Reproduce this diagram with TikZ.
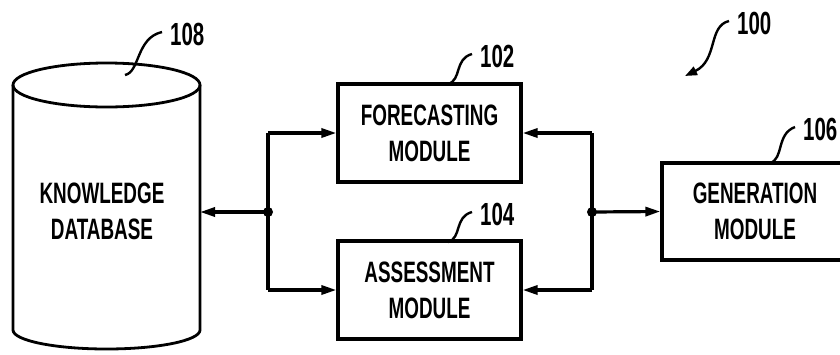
\documentclass[tikz,border=0pt]{standalone}
\usepackage{fontspec}
\setmainfont{Liberation Sans}[FakeStretch=0.64,UprightFont=*,BoldFont=* Bold]
\usetikzlibrary{arrows.meta}
\begin{document}
\begin{tikzpicture}[x=1pt,y=-1pt,
  box/.style={draw,line width=3.2pt,minimum width=183pt,minimum height=98pt,align=center,inner sep=0pt},
  lbl/.style={font=\fontsize{29.5}{36}\selectfont\bfseries,align=center},
  num/.style={font=\fontsize{32}{33}\selectfont\bfseries,anchor=west,inner sep=0pt},
  conn/.style={line width=3.2pt,-{Triangle[length=15pt,width=9pt]}},
  lead/.style={line width=2.4pt},
  dot/.style={circle,fill,inner sep=0pt,minimum size=10pt}]
\useasboundingbox (0,0) rectangle (840,354);
% cylinder
\draw[line width=2.8pt] (13,85) -- (13,330) arc[start angle=180,end angle=360,x radius=93.5pt,y radius=19pt] -- (200,85);
\draw[line width=2.8pt] (106.5,85) ellipse[x radius=93.5pt,y radius=22pt];
\node[lbl,minimum width=187pt,minimum height=100pt,inner sep=0pt] (db) at (102,211) {KNOWLEDGE\\DATABASE};
% boxes
\node[box,lbl] (fc) at (429.5,133) {FORECASTING\\MODULE};
\node[box,lbl] (as) at (429.5,290) {ASSESSMENT\\MODULE};
\node[box,lbl,minimum width=186pt,minimum height=97pt] (gen) at (755,211.5) {GENERATION\\MODULE};
% junctions
\node[dot] (jl) at (268,212) {};
\node[dot] (jr) at (592,212) {};
\draw[line width=3.2pt] (268,133) -- (268,290);
\draw[line width=3.2pt] (592,133) -- (592,290);
\draw[conn] (jl.center) -- (200,212);
\draw[conn] (268,133) -- (fc.west);
\draw[conn] (268,290) -- (as.west);
\draw[conn] (592,133) -- (fc.east);
\draw[conn] (592,290) -- (as.east);
\draw[conn] (jr.center) -- (gen.west);
% labels
\node[num] (n108) at (170,34) {108};
\draw[lead] (125,75) .. controls (140,72) and (136,38) .. ([xshift=-8pt,yshift=2pt]n108.west);
\node[num] (n102) at (480,56) {102};
\draw[lead] (448,84) .. controls (462,80) and (454,59) .. ([xshift=-8pt,yshift=2pt]n102.west);
\node[num] (n104) at (480,214) {104};
\draw[lead] (448,242) .. controls (462,238) and (454,217) .. ([xshift=-8pt,yshift=2pt]n104.west);
\node[num] (n106) at (803,129) {106};
\draw[lead] (770,163) .. controls (784,159) and (776,134) .. ([xshift=-8pt,yshift=2pt]n106.west);
\node[num] (n100) at (737,23) {100};
\coordinate (t100) at (685,76);
\draw[lead,-{Triangle[length=12pt,width=9pt]}] ([xshift=-8pt,yshift=2pt]n100.west) .. controls (708,26) and (718,60) .. (t100);
\end{tikzpicture}
\end{document}
